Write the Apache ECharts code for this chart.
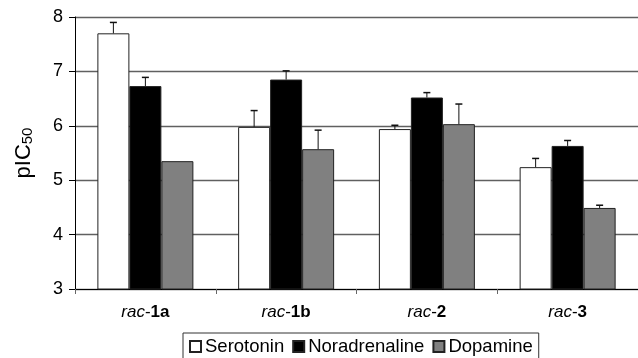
<!DOCTYPE html>
<html>
<head>
<meta charset="utf-8">
<script src="https://cdn.jsdelivr.net/npm/echarts@6/dist/echarts.min.js"></script>
<style>html,body{margin:0;padding:0;background:#fff;}#c{width:638px;height:358px;}</style>
</head>
<body>
<div id="c"></div>
<script>
const categories = ['rac-1a', 'rac-1b', 'rac-2', 'rac-3'];
const seriesNames = ['Serotonin', 'Noradrenaline', 'Dopamine'];
const serotonin = [7.70, 5.98, 5.94, 5.24];
const noradrenaline = [6.73, 6.85, 6.52, 5.63];
const dopamine = [5.35, 5.57, 6.03, 4.49];
const serotoninErr = [0.20, 0.30, 0.07, 0.16];
const noradrenalineErr = [0.16, 0.16, 0.09, 0.10];
const dopamineErr = [0, 0.35, 0.37, 0.05];
const yTicks = [3, 4, 5, 6, 7, 8];

const values = [serotonin, noradrenaline, dopamine];
const errs = [serotoninErr, noradrenalineErr, dopamineErr];
const colors = ['#ffffff', '#000000', '#808080'];
const BAR_W = 32;
const FONT = 'Liberation Sans, Arial, sans-serif';

const chart = echarts.init(document.getElementById('c'));

const barSeries = seriesNames.map((n, i) => ({
  name: n,
  type: 'bar',
  data: values[i],
  barWidth: BAR_W,
  barGap: '0%',
  itemStyle: { color: colors[i], borderColor: '#222', borderWidth: 1 },
  z: 2
}));

const errSeries = seriesNames.map((n, s) => ({
  type: 'custom',
  coordinateSystem: 'cartesian2d',
  z: 3,
  silent: true,
  data: categories.map((c, k) => [k, values[s][k], values[s][k] + errs[s][k]]),
  encode: { x: 0, y: [1, 2] },
  renderItem: function (params, api) {
    const k = api.value(0);
    const base = api.coord([k, api.value(1)]);
    const top = api.coord([k, api.value(2)]);
    if (api.value(2) - api.value(1) <= 0) return null;
    const x = base[0] + (s - 1) * BAR_W;
    const st = { stroke: '#111', lineWidth: 1 };
    return {
      type: 'group',
      children: [
        { type: 'line', shape: { x1: x, y1: base[1], x2: x, y2: top[1] }, style: st },
        { type: 'line', shape: { x1: x - 3.5, y1: top[1], x2: x + 3.5, y2: top[1] }, style: Object.assign({}, st, { lineWidth: 1.5 }) }
      ]
    };
  }
}));

chart.setOption({
  animation: false,
  backgroundColor: '#ffffff',
  textStyle: { fontFamily: FONT },
  grid: { left: 75, top: 17, right: -8, bottom: 69, containLabel: false },
  legend: {
    data: seriesNames,
    left: 183,
    top: 333,
    orient: 'horizontal',
    icon: 'rect',
    itemWidth: 11,
    itemHeight: 11,
    itemGap: 8,
    padding: [4, 6, 10, 6],
    borderColor: '#333',
    borderWidth: 1,
    textStyle: { fontSize: 18.5, color: '#000', fontFamily: FONT, padding: [0, 0, 0, -1] }
  },
  xAxis: {
    type: 'category',
    data: categories,
    axisLine: { lineStyle: { color: '#000', width: 1 } },
    axisTick: { show: true, interval: 0, length: 5, lineStyle: { color: '#666' } },
    axisLabel: {
      interval: 0,
      margin: 15,
      color: '#000',
      fontSize: 17,
      formatter: function (v) {
        const p = v.split('-');
        return '{i|' + p[0] + '}{n|-}{b|' + p[1] + '}';
      },
      rich: {
        i: { fontStyle: 'italic', fontSize: 17, fontFamily: FONT, color: '#000' },
        n: { fontSize: 17, fontFamily: FONT, color: '#000' },
        b: { fontWeight: 'bold', fontSize: 17, fontFamily: FONT, color: '#000' }
      }
    },
    splitLine: { show: false }
  },
  yAxis: {
    type: 'value',
    min: yTicks[0],
    max: yTicks[yTicks.length - 1],
    interval: 1,
    name: '{a|pIC}{s|50}',
    nameLocation: 'middle',
    nameGap: 40,
    nameRotate: 90,
    nameTextStyle: {
      rich: {
        a: { fontSize: 22, fontFamily: FONT, color: '#000' },
        s: { fontSize: 15, fontFamily: FONT, color: '#000', padding: [8, 0, 0, 0] }
      }
    },
    axisLine: { show: true, lineStyle: { color: '#000', width: 1 } },
    axisTick: { show: true, length: 6, lineStyle: { color: '#000' } },
    axisLabel: { color: '#000', fontSize: 18, margin: 12 },
    splitLine: { show: true, lineStyle: { color: '#606060', width: 1.3 } }
  },
  series: barSeries.concat(errSeries)
});
</script>
</body>
</html>
